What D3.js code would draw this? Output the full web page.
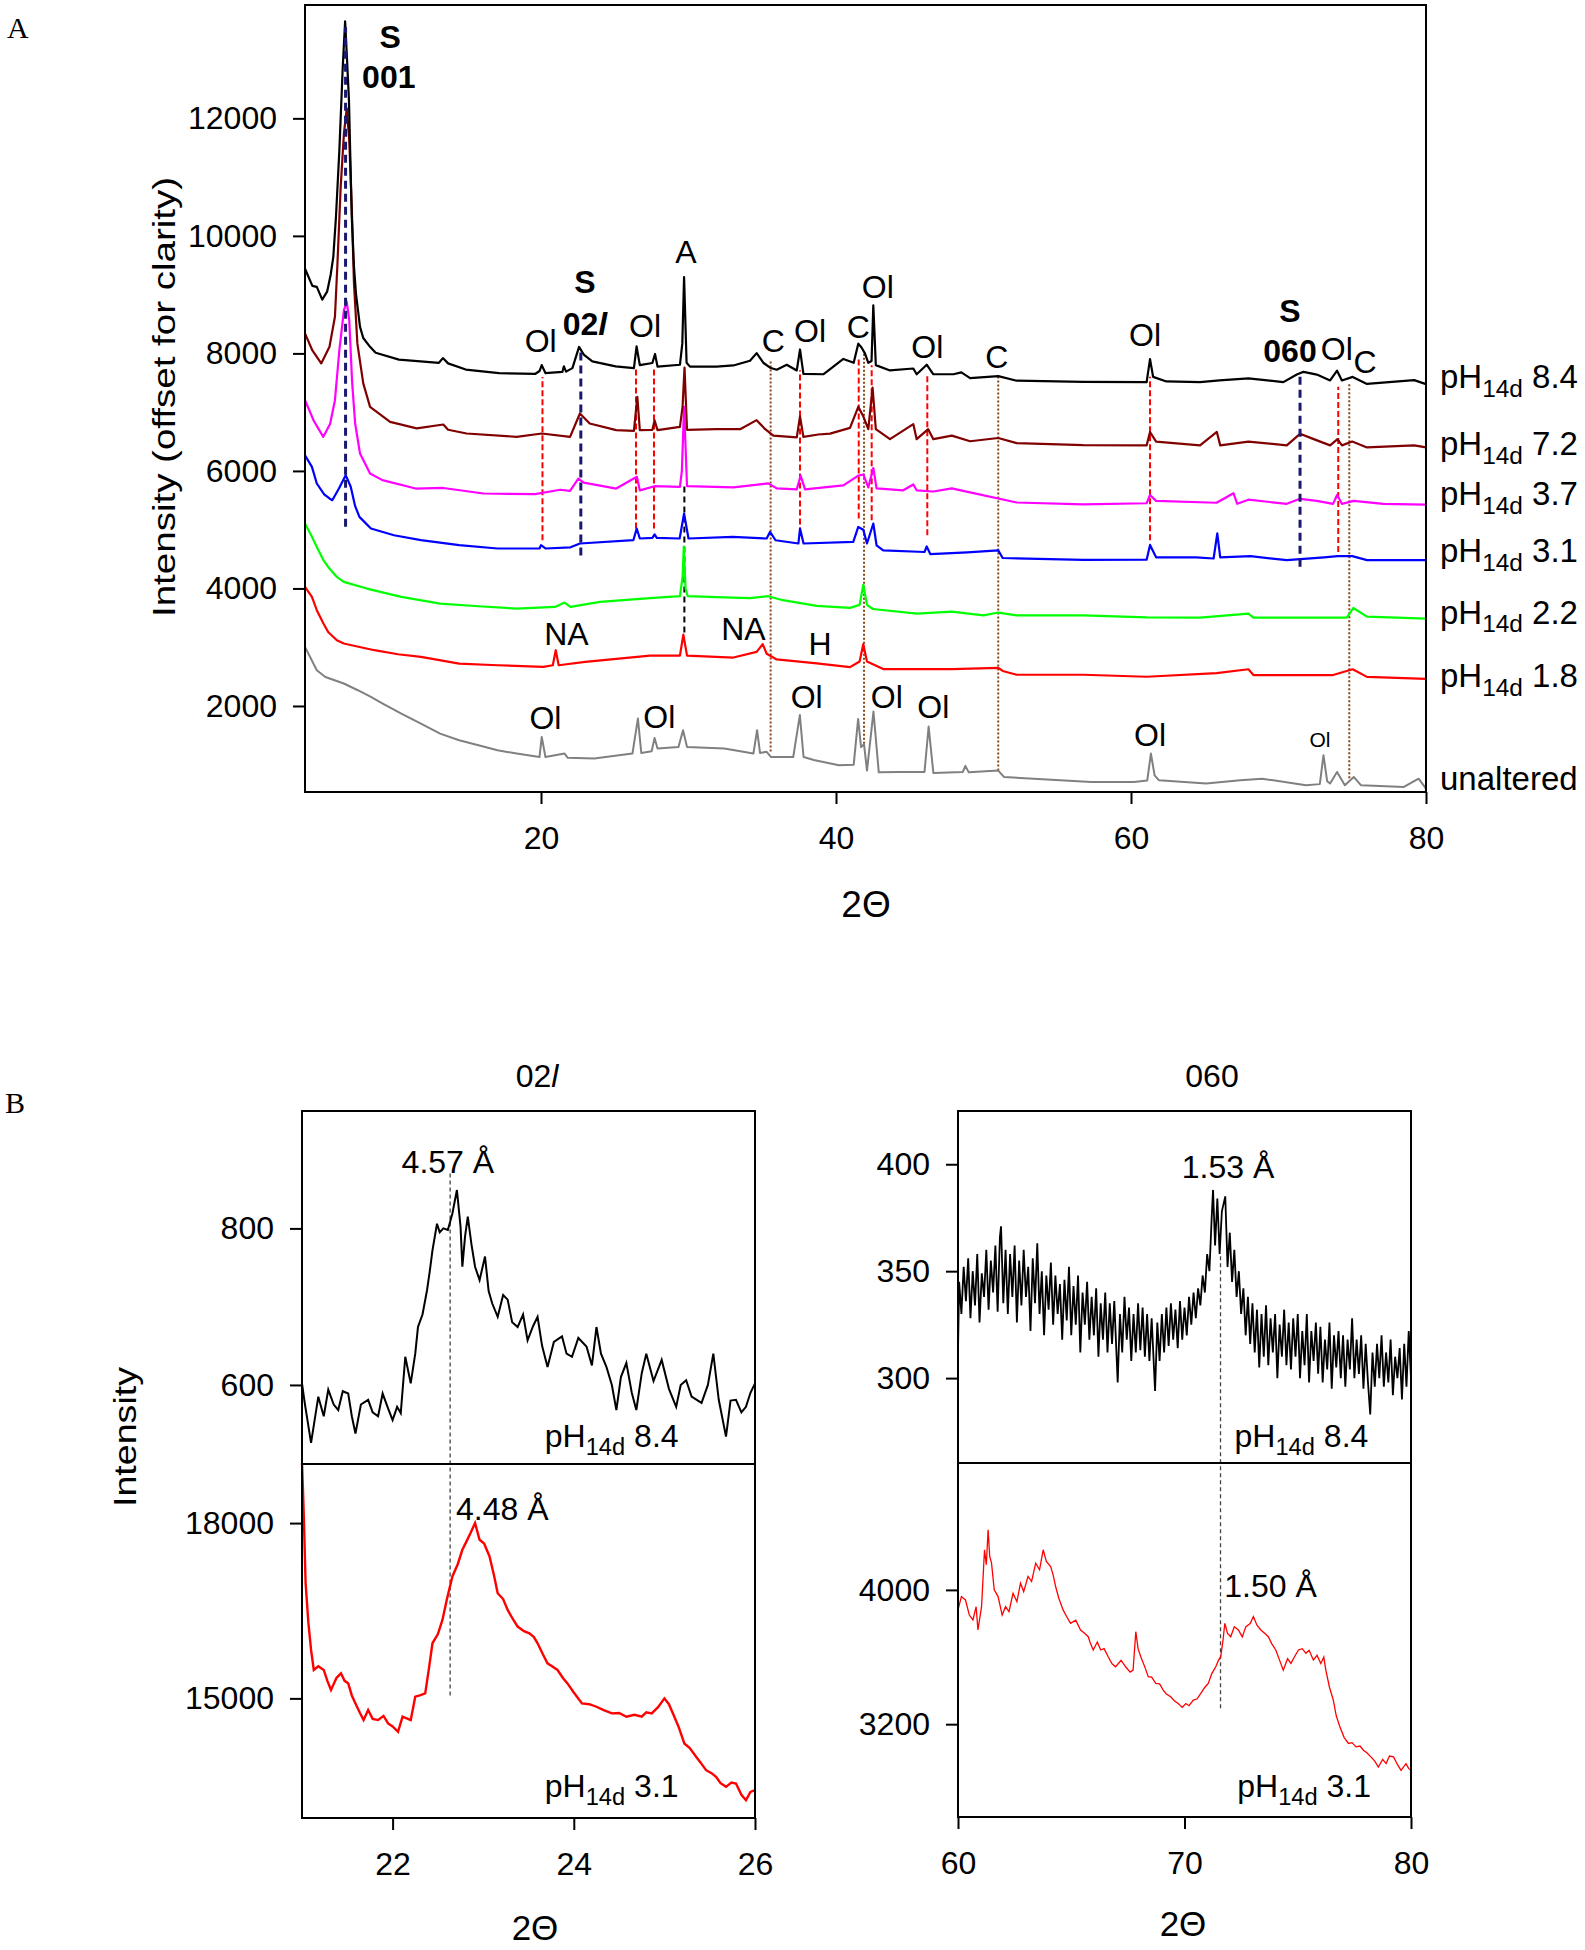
<!DOCTYPE html>
<html><head><meta charset="utf-8">
<script src="https://cdn.jsdelivr.net/npm/d3@7"></script>
<style>
body{margin:0;background:#fff}
text{font-family:"Liberation Sans",Arial,sans-serif;fill:#000}
</style>
</head><body>
<svg id="c" width="1585" height="1950"></svg>
<script>
// ---------------- DATA: panel A (2θ, intensity offset) ----------------
const ph84 = [[4.0,9440],[4.5,9150],[4.8,9133],[5.17,8915],[5.5,9050],[5.74,9340],[5.92,9644],[6.1,10325],[6.33,11460],[6.56,12879],[6.72,13650],[6.85,13000],[6.98,12310],[7.17,10325],[7.32,9474],[7.46,9005],[7.73,8452],[7.95,8262],[8.41,8112],[8.79,8010],[10.37,7895],[13.08,7840],[13.35,7920],[13.7,7830],[14.9,7725],[17.15,7665],[19.6,7650],[19.9,7700],[20.05,7800],[20.3,7665],[21.45,7685],[21.55,7780],[21.7,7690],[22.13,7750],[22.58,8110],[22.9,7980],[23.48,7865],[25.06,7780],[26.3,7750],[26.48,8120],[26.7,7800],[27.55,7837],[27.73,7990],[27.9,7775],[29.42,7807],[29.58,8166],[29.7,9300],[29.87,7840],[30.1,7775],[31.9,7775],[33.04,7795],[34.17,7874],[34.62,8005],[35.07,7841],[35.53,7756],[35.98,7722],[36.66,7807],[37.34,7710],[37.56,8067],[37.79,7650],[39.14,7645],[40.5,7906],[41.2,7840],[41.51,8166],[41.73,8100],[41.96,8000],[42.19,7840],[42.41,7870],[42.53,8818],[42.7,7800],[43.66,7710],[45.24,7743],[45.47,7645],[46.15,7807],[46.6,7645],[47.96,7645],[48.5,7676],[49.09,7579],[51.0,7613],[52.25,7535],[56.77,7515],[61.06,7511],[61.29,7903],[61.5,7600],[62.4,7523],[64.68,7511],[66.0,7540],[67.96,7576],[70.33,7511],[71.24,7640],[71.7,7686],[72.6,7640],[73.5,7540],[73.97,7705],[74.3,7540],[75.03,7600],[76.0,7480],[79.2,7545],[80.0,7477]];
const ph72 = [[4.0,8340],[4.5,8050],[5.1,7830],[5.66,8112],[6.03,8623],[6.19,9474],[6.42,10836],[6.64,11745],[6.83,12170],[7.0,11631],[7.17,10495],[7.32,9191],[7.55,8170],[7.95,7489],[8.41,7090],[9.77,6835],[11.57,6723],[13.38,6790],[13.7,6700],[14.96,6637],[18.35,6580],[20.05,6637],[21.97,6580],[22.64,6978],[23.3,6808],[25.1,6694],[26.3,6680],[26.53,7260],[26.7,6694],[27.55,6700],[27.7,6860],[27.9,6694],[29.42,6750],[29.6,7100],[29.73,7760],[29.9,6700],[31.9,6710],[33.5,6710],[34.62,6864],[35.2,6710],[35.75,6602],[37.34,6570],[37.56,6929],[37.79,6580],[38.8,6620],[39.6,6635],[40.95,6733],[41.51,7090],[41.85,6930],[42.19,6710],[42.48,7418],[42.7,6710],[43.66,6540],[45.24,6797],[45.47,6540],[46.25,6710],[46.6,6540],[47.85,6600],[49.09,6505],[51.0,6560],[52.25,6473],[56.77,6440],[61.06,6435],[61.29,6663],[61.7,6500],[64.68,6435],[65.82,6663],[66.05,6435],[67.96,6500],[70.56,6435],[71.46,6631],[72.3,6550],[73.5,6435],[74.0,6540],[74.3,6435],[75.0,6500],[76.0,6400],[79.2,6435],[80.0,6400]];
const ph37 = [[4.0,7204],[4.6,6850],[5.24,6580],[5.7,6800],[6.03,7204],[6.33,8055],[6.64,8736],[6.83,8878],[7.0,8566],[7.2,7489],[7.4,6807],[7.73,6297],[8.41,5956],[9.25,5843],[11.5,5700],[13.38,5710],[16.1,5616],[19.6,5605],[21.3,5680],[21.97,5660],[22.53,5870],[22.9,5800],[25.1,5700],[26.5,5900],[26.7,5670],[27.7,5740],[29.42,5730],[29.55,6000],[29.7,7090],[29.9,5740],[33.04,5720],[35.41,5788],[35.98,5703],[37.34,5686],[37.6,5919],[37.9,5686],[40.5,5754],[41.51,5919],[41.85,5940],[42.19,5720],[42.53,6049],[42.75,5703],[44.56,5670],[45.24,5770],[45.47,5670],[46.6,5650],[47.85,5703],[49.09,5636],[52.25,5463],[56.77,5430],[61.06,5450],[61.29,5590],[61.7,5490],[65.8,5458],[66.95,5620],[67.2,5440],[67.96,5510],[70.56,5440],[71.46,5525],[72.6,5490],[73.7,5440],[73.97,5590],[74.3,5440],[75.1,5490],[77.1,5440],[80.0,5425]];
const ph31 = [[4.0,6266],[4.47,6069],[4.8,5786],[5.3,5600],[5.66,5531],[5.85,5502],[6.3,5700],[6.76,5928],[7.1,5730],[7.4,5400],[7.69,5218],[8.47,5020],[10.03,4906],[11.86,4821],[14.45,4736],[17.05,4680],[19.9,4680],[20.0,4736],[20.3,4680],[22.0,4700],[22.64,4765],[26.26,4821],[26.49,5020],[26.7,4850],[27.55,4860],[27.7,4920],[27.85,4860],[29.4,4850],[29.7,5275],[30.0,4850],[33.0,4877],[35.3,4850],[35.53,4963],[35.9,4820],[37.45,4765],[37.56,5020],[37.8,4765],[41.17,4792],[41.51,5047],[41.85,5000],[42.1,4765],[42.53,5105],[42.75,4735],[43.2,4648],[46.0,4620],[46.15,4714],[46.4,4583],[48.9,4615],[51.0,4648],[51.3,4518],[56.77,4486],[61.06,4490],[61.29,4741],[61.7,4530],[64.4,4530],[65.6,4510],[65.85,4937],[66.05,4530],[68.1,4550],[70.56,4481],[73.1,4530],[74.0,4550],[75.0,4550],[76.0,4481],[80.0,4481]];
const ph22 = [[4.0,5105],[4.47,4878],[4.8,4707],[5.25,4481],[5.57,4366],[6.16,4196],[6.63,4111],[8.19,3998],[10.53,3856],[13.16,3743],[15.76,3697],[18.35,3658],[20.95,3686],[21.6,3760],[22.0,3686],[24.0,3771],[27.39,3834],[29.42,3868],[29.6,4200],[29.68,4714],[29.8,4000],[29.95,3868],[31.9,3851],[34.17,3834],[35.4,3868],[36.4,3800],[38.7,3703],[40.95,3670],[41.6,3720],[41.85,4062],[42.1,3720],[42.5,3650],[45.47,3573],[47.85,3607],[50.0,3541],[51.0,3590],[52.25,3541],[56.77,3541],[61.07,3509],[64.68,3503],[67.96,3570],[68.3,3503],[74.63,3503],[75.07,3667],[76.0,3520],[80.0,3486]];
const ph18 = [[4.0,4026],[4.47,3856],[4.8,3630],[5.25,3403],[5.57,3260],[6.16,3119],[6.63,3063],[8.7,2949],[10.3,2880],[11.86,2835],[14.45,2722],[17.05,2693],[20.16,2665],[20.8,2693],[21.0,2949],[21.2,2693],[23.0,2750],[27.39,2857],[29.42,2857],[29.65,3214],[29.9,2857],[33.04,2824],[34.62,2921],[35.03,3052],[35.3,2889],[35.98,2792],[38.7,2726],[40.95,2661],[41.6,2758],[41.85,3052],[42.1,2758],[43.2,2628],[47.85,2628],[51.0,2650],[51.3,2596],[52.25,2531],[56.77,2531],[61.07,2497],[65.8,2560],[67.96,2625],[68.3,2526],[73.7,2526],[75.03,2625],[76.0,2495],[80.0,2462]];
const unaltered = [[4.0,3005],[4.8,2608],[5.38,2494],[6.63,2382],[7.58,2268],[8.47,2154],[9.27,2041],[10.53,1871],[11.86,1700],[13.16,1530],[14.45,1416],[15.76,1331],[17.05,1246],[18.35,1190],[19.9,1132],[20.05,1473],[20.3,1132],[21.6,1190],[21.8,1120],[23.6,1105],[26.2,1190],[26.57,1786],[26.8,1200],[27.5,1230],[27.7,1456],[27.9,1275],[29.32,1303],[29.63,1587],[29.9,1303],[32.43,1275],[34.4,1190],[34.65,1587],[34.85,1200],[35.3,1220],[35.6,1130],[37.1,1132],[37.55,1845],[37.8,1132],[38.5,1080],[40.2,991],[41.2,1000],[41.5,1780],[41.7,1300],[41.9,1350],[42.1,900],[42.54,1905],[42.9,870],[44.36,877],[46.0,877],[46.28,1650],[46.6,860],[48.6,877],[48.77,980],[49.0,870],[51.0,900],[51.4,790],[57.3,707],[60.2,707],[61.1,730],[61.35,1190],[61.6,820],[61.9,735],[65.1,680],[67.4,735],[68.9,763],[71.86,650],[72.8,670],[73.05,1161],[73.3,720],[73.5,680],[73.97,877],[74.5,650],[75.1,792],[75.6,650],[78.5,622],[79.5,763],[80.0,593]];

const seriesNamesA = ["8.4","7.2","3.7","3.1","2.2","1.8"];
const seriesLabelValA = [7575,6436,5585,4616,3568,2494];
const unalteredLabelVal = 735;

// reference lines: [2θ, from, to]
const smectiteLines = [[6.75,5050,13550],[22.7,4560,8100],[71.46,4370,7660]];
const olivineLines = [[20.1,4820,7600],[26.44,5020,7770],[27.66,5020,7770],[37.56,4935,7715],[41.54,5190,7942],[42.42,5162,7800],[46.19,4906,7659],[61.29,4821,7601],[74.05,4622,7431]];
const calciteLines = [[35.57,1227,7874],[41.9,1358,8005],[51.0,902,7613],[74.8,768,7511]];
const anataseLines = [[29.72,3250,5790]];

// peak labels [text, 2θ, intensity]
const peakLabelsA = [["Ol",19.98,8022],["Ol",27.05,8277],["C",35.75,8022],["Ol",38.24,8192],["C",41.51,8260],["Ol",42.83,8941],["Ol",46.19,7920],["C",50.9,7750],["Ol",60.95,8124],["Ol",73.95,7886],["C",75.86,7665],["A",29.83,9537],["NA",21.72,3034],["NA",33.72,3119],["H",38.92,2863],["Ol",20.3,1604],["Ol",28.02,1621],["Ol",38.01,1962],["Ol",43.44,1962],["Ol",46.6,1791],["Ol",61.29,1314]];
const smallLabelsA = [["Ol",72.81,1297]];
const boldLabelsA = [["S",9.77,13202],["001",9.68,12516],["S",22.98,9025],["S",70.78,8532],["060",70.78,7852]];
const label02l = [22.98,8311];

const yTicksA = [2000,4000,6000,8000,10000,12000];
const xTicksA = [20,40,60,80];

// ---------------- DATA: panel B ----------------
const top02 = [[21.0,602],[21.03,577],[21.1,526],[21.18,585],[21.24,560],[21.29,594],[21.35,575],[21.4,568],[21.45,592],[21.51,589],[21.55,560],[21.59,538],[21.65,575],[21.73,581],[21.78,565],[21.84,560],[21.89,589],[21.95,570],[22.0,555],[22.05,572],[22.09,564],[22.14,636],[22.2,602],[22.25,640],[22.28,674],[22.33,690],[22.38,721],[22.41,745],[22.44,772],[22.49,806],[22.52,795],[22.56,800],[22.61,798],[22.66,819],[22.71,849],[22.75,802],[22.77,751],[22.8,790],[22.83,815],[22.87,780],[22.91,751],[22.96,734],[23.02,764],[23.06,720],[23.1,704],[23.16,687],[23.22,715],[23.27,709],[23.32,680],[23.38,674],[23.44,690],[23.49,657],[23.55,675],[23.6,687],[23.65,650],[23.71,623],[23.78,655],[23.87,662],[23.92,640],[23.98,636],[24.05,660],[24.14,649],[24.2,625],[24.25,674],[24.3,640],[24.36,623],[24.42,600],[24.47,568],[24.52,610],[24.58,628],[24.64,590],[24.69,568],[24.75,615],[24.8,640],[24.88,605],[24.97,632],[25.05,595],[25.13,572],[25.18,600],[25.24,606],[25.3,585],[25.41,577],[25.48,600],[25.54,640],[25.6,581],[25.68,534],[25.73,580],[25.79,581],[25.85,565],[25.9,572],[25.95,590],[26.0,602]];
const bot02 = [[21.0,19029],[21.01,18600],[21.02,18114],[21.04,16971],[21.07,16300],[21.1,15829],[21.13,15486],[21.18,15550],[21.24,15486],[21.28,15300],[21.32,15143],[21.38,15350],[21.43,15429],[21.47,15300],[21.51,15257],[21.55,15050],[21.59,14914],[21.64,14750],[21.68,14629],[21.73,14800],[21.78,14650],[21.84,14629],[21.9,14700],[21.95,14571],[22.0,14520],[22.06,14429],[22.11,14686],[22.2,14629],[22.25,15029],[22.3,15050],[22.36,15086],[22.4,15500],[22.44,15943],[22.5,16100],[22.55,16343],[22.6,16700],[22.66,17086],[22.72,17300],[22.77,17543],[22.82,17700],[22.86,17829],[22.91,18000],[22.96,17714],[23.01,17650],[23.07,17429],[23.12,17100],[23.16,16800],[23.22,16700],[23.27,16514],[23.33,16350],[23.38,16229],[23.45,16150],[23.51,16114],[23.56,16050],[23.6,15943],[23.66,15750],[23.71,15600],[23.76,15550],[23.82,15486],[23.88,15350],[23.93,15257],[24.0,15100],[24.09,14914],[24.17,14900],[24.25,14857],[24.33,14800],[24.42,14743],[24.5,14750],[24.58,14686],[24.67,14720],[24.75,14686],[24.8,14760],[24.86,14743],[24.93,14850],[25.0,15000],[25.05,14900],[25.11,14686],[25.16,14500],[25.22,14229],[25.28,14150],[25.35,14000],[25.4,13900],[25.46,13771],[25.52,13720],[25.57,13657],[25.62,13550],[25.68,13486],[25.74,13560],[25.79,13543],[25.85,13350],[25.9,13257],[25.95,13400],[26.0,13429]];
const top060 = [[60.0,312],[60.05,345],[60.15,330],[60.25,352],[60.35,336],[60.45,356],[60.55,328],[60.65,350],[60.75,334],[60.85,358],[60.95,326],[61.05,349],[61.15,338],[61.25,360],[61.35,332],[61.45,355],[61.55,340],[61.65,362],[61.75,331],[61.85,366],[61.9,371],[62.0,335],[62.1,360],[62.2,330],[62.3,358],[62.4,338],[62.5,362],[62.6,326],[62.7,355],[62.8,334],[62.9,360],[63.0,338],[63.1,352],[63.2,322],[63.3,356],[63.4,335],[63.5,363],[63.6,330],[63.7,350],[63.8,320],[63.9,348],[64.0,332],[64.1,354],[64.2,325],[64.3,348],[64.4,330],[64.5,344],[64.6,318],[64.7,346],[64.8,327],[64.9,352],[65.0,320],[65.1,343],[65.2,325],[65.3,348],[65.4,312],[65.5,340],[65.6,325],[65.7,345],[65.8,318],[65.9,338],[66.0,320],[66.1,342],[66.2,310],[66.3,335],[66.4,318],[66.5,340],[66.6,312],[66.7,335],[66.8,316],[66.9,336],[67.05,298],[67.15,330],[67.25,312],[67.35,338],[67.45,318],[67.55,333],[67.65,308],[67.75,330],[67.85,312],[67.95,335],[68.05,313],[68.15,333],[68.25,310],[68.35,330],[68.45,308],[68.55,328],[68.7,294],[68.8,326],[68.9,308],[69.0,330],[69.1,312],[69.2,333],[69.3,315],[69.4,335],[69.5,318],[69.6,332],[69.7,314],[69.8,336],[69.9,318],[70.0,333],[70.1,320],[70.2,338],[70.3,325],[70.4,340],[70.5,328],[70.6,342],[70.7,334],[70.8,348],[70.9,340],[71.0,358],[71.1,350],[71.2,375],[71.26,388],[71.35,362],[71.45,384],[71.55,358],[71.65,378],[71.8,385],[71.9,352],[72.0,368],[72.1,345],[72.2,360],[72.3,338],[72.4,350],[72.5,330],[72.6,342],[72.7,320],[72.8,338],[72.9,316],[73.0,335],[73.1,312],[73.2,332],[73.3,305],[73.4,330],[73.5,310],[73.6,334],[73.7,306],[73.8,328],[73.9,312],[74.0,330],[74.1,300],[74.2,325],[74.3,310],[74.4,332],[74.5,306],[74.6,326],[74.7,304],[74.8,328],[74.9,310],[75.0,330],[75.1,300],[75.2,322],[75.3,306],[75.4,330],[75.5,298],[75.6,322],[75.7,308],[75.8,326],[75.9,302],[76.0,324],[76.1,298],[76.2,318],[76.3,304],[76.4,326],[76.5,295],[76.6,320],[76.7,305],[76.8,322],[76.9,300],[77.0,320],[77.1,296],[77.2,318],[77.3,304],[77.4,328],[77.5,300],[77.6,318],[77.7,302],[77.8,320],[77.9,295],[78.0,316],[78.1,298],[78.2,283],[78.3,312],[78.4,296],[78.5,316],[78.6,300],[78.7,320],[78.8,296],[78.9,312],[79.0,298],[79.1,318],[79.2,292],[79.3,310],[79.4,300],[79.5,314],[79.6,290],[79.7,316],[79.8,296],[79.9,322],[80.0,300]];
const bot060 = [[60.0,3881],[60.15,3960],[60.33,3940],[60.5,3850],[60.66,3821],[60.8,3900],[60.88,3761],[61.04,3900],[61.17,4239],[61.25,4150],[61.33,4358],[61.4,4200],[61.48,4159],[61.6,4000],[61.77,3960],[61.95,3850],[62.1,3900],[62.25,3870],[62.43,3980],[62.6,3930],[62.76,4040],[62.9,3990],[63.09,4080],[63.25,4050],[63.43,4159],[63.6,4120],[63.76,4239],[63.9,4170],[64.09,4139],[64.2,4090],[64.31,4020],[64.45,3950],[64.64,3881],[64.8,3840],[64.97,3801],[65.2,3820],[65.41,3761],[65.6,3740],[65.75,3721],[65.85,3680],[65.97,3642],[66.15,3690],[66.3,3642],[66.45,3650],[66.63,3602],[66.8,3560],[66.96,3542],[67.2,3580],[67.4,3542],[67.6,3510],[67.73,3522],[67.85,3751],[67.95,3650],[68.07,3602],[68.25,3540],[68.4,3483],[68.55,3480],[68.73,3443],[68.9,3440],[69.06,3403],[69.2,3380],[69.39,3363],[69.55,3340],[69.72,3323],[69.9,3300],[70.06,3323],[70.2,3310],[70.39,3343],[70.55,3350],[70.72,3383],[70.9,3420],[71.05,3443],[71.2,3500],[71.38,3542],[71.5,3580],[71.6,3602],[71.7,3700],[71.78,3801],[71.9,3740],[72.04,3721],[72.2,3780],[72.38,3761],[72.55,3720],[72.71,3781],[72.9,3800],[73.04,3841],[73.2,3790],[73.37,3761],[73.55,3740],[73.7,3721],[73.85,3680],[74.03,3642],[74.2,3580],[74.36,3522],[74.55,3590],[74.7,3562],[74.85,3600],[75.03,3642],[75.2,3650],[75.36,3622],[75.5,3640],[75.69,3582],[75.85,3610],[76.02,3562],[76.15,3600],[76.24,3522],[76.4,3420],[76.57,3343],[76.7,3250],[76.86,3184],[77.05,3120],[77.24,3085],[77.4,3090],[77.57,3065],[77.75,3070],[77.9,3045],[78.05,3030],[78.23,3005],[78.4,2980],[78.56,2945],[78.75,2990],[78.9,2965],[79.05,3010],[79.23,3005],[79.4,2960],[79.56,2925],[79.7,2950],[79.78,2965],[79.9,2935],[80.0,2925]];

const bYTicksTopL = [600,800], bYTicksBotL = [15000,18000];
const bYTicksTopR = [300,350,400], bYTicksBotR = [3200,4000];
const bXTicksL = [22,24,26], bXTicksR = [60,70,80];
const dLeft = [22.635, 870, 15000];
const dRight = [71.59, 357, 3284];
const annB = {topL:["4.57 Å",22.61,870.6], botL:["4.48 Å",23.21,18057], topR:["1.53 Å",71.92,393.6], botR:["1.50 Å",73.8,3958]};
const phB = {topL:["8.4",23.68,521], botL:["3.1",23.68,13313], topR:["8.4",72.21,268], botR:["3.1",72.33,2766]};

// ---------------- DRAWING ----------------
const svg = d3.select("#c");
const FS = 32;

function txt(x, y, s, o = {}) {
  const t = svg.append("text").attr("x", x).attr("y", y).attr("font-size", o.size || FS)
    .attr("text-anchor", o.anchor || "middle").text(s);
  if (o.bold) t.attr("font-weight", "bold");
  if (o.family) t.style("font-family", o.family);
  return t;
}
function phText(x, y, val, size, anchor) {
  const t = svg.append("text").attr("x", x).attr("y", y).attr("font-size", size).attr("text-anchor", anchor || "start");
  t.append("tspan").text("pH");
  t.append("tspan").attr("font-size", size * 0.74).attr("dy", size * 0.26).text("14d");
  t.append("tspan").attr("dy", -size * 0.26).text(" " + val);
  return t;
}
function styleAxis(g) {
  g.select(".domain").remove();
  g.selectAll(".tick line").attr("stroke", "#000").attr("stroke-width", 2);
  g.selectAll(".tick text").attr("font-size", FS).style("font-family", '"Liberation Sans",Arial,sans-serif').attr("fill", "#000");
}

// Panel A
const xA = d3.scaleLinear().domain([4, 80]).range([305, 1426]);
const yA = d3.scaleLinear().domain([536, 13929]).range([792, 5]);
const lineA = d3.line().x(d => xA(d[0])).y(d => yA(d[1]));

txt(7, 38, "A", {anchor: "start", size: 30, family: '"Liberation Serif","Times New Roman",serif'});

function refLines(arr, color, width, dash) {
  svg.append("g").selectAll("line").data(arr).join("line")
    .attr("x1", d => xA(d[0])).attr("x2", d => xA(d[0]))
    .attr("y1", d => yA(d[1])).attr("y2", d => yA(d[2]))
    .attr("stroke", color).attr("stroke-width", width).attr("stroke-dasharray", dash);
}
refLines(calciteLines, "#8B4513", 2, "2,2");
refLines(olivineLines, "#FF0000", 2, "6,3");
refLines(anataseLines, "#000000", 2, "6,4");

const seriesA = [
  {d: unaltered, c: "#808080", w: 2},
  {d: ph18, c: "#FF0000", w: 2.2},
  {d: ph22, c: "#00FF00", w: 2.2},
  {d: ph31, c: "#0000FF", w: 2.2},
  {d: ph37, c: "#FF00FF", w: 2.2},
  {d: ph72, c: "#800000", w: 2.2},
  {d: ph84, c: "#000000", w: 2.2}
];
svg.append("g").selectAll("path").data(seriesA).join("path")
  .attr("d", s => lineA(s.d)).attr("fill", "none")
  .attr("stroke", s => s.c).attr("stroke-width", s => s.w).attr("stroke-linejoin", "round");

refLines(smectiteLines, "#191970", 3, "8,5");

svg.append("rect").attr("x", 305).attr("y", 5).attr("width", 1426 - 305).attr("height", 792 - 5)
  .attr("fill", "none").attr("stroke", "#000").attr("stroke-width", 2);
svg.append("g").attr("transform", "translate(305,0)")
  .call(d3.axisLeft(yA).tickValues(yTicksA).tickSize(12).tickPadding(16).tickFormat(d3.format("d"))).call(styleAxis);
svg.append("g").attr("transform", "translate(0,792)")
  .call(d3.axisBottom(xA).tickValues(xTicksA).tickSize(12).tickPadding(22).tickFormat(d3.format("d"))).call(styleAxis);

svg.append("text").attr("transform", "translate(175,397) rotate(-90)").attr("text-anchor", "middle")
  .attr("font-size", FS).attr("textLength", 440).attr("lengthAdjust", "spacingAndGlyphs")
  .text("Intensity (offset for clarity)");
txt(866, 917, "2Θ", {size: 37});

peakLabelsA.forEach(l => txt(xA(l[1]), yA(l[2]), l[0]));
smallLabelsA.forEach(l => txt(xA(l[1]), yA(l[2]), l[0], {size: 21}));
boldLabelsA.forEach(l => txt(xA(l[1]), yA(l[2]), l[0], {bold: true}));
{
  const t = txt(xA(label02l[0]), yA(label02l[1]), "", {bold: true});
  t.append("tspan").text("02");
  t.append("tspan").attr("font-style", "italic").text("l");
}
seriesNamesA.forEach((n, i) => phText(1440, yA(seriesLabelValA[i]) + 10, n, 33));
txt(1440, yA(unalteredLabelVal) + 10, "unaltered", {anchor: "start", size: 33});

// Panel B
txt(5, 1113, "B", {anchor: "start", size: 30, family: '"Liberation Serif","Times New Roman",serif'});
svg.append("text").attr("transform", "translate(136,1437) rotate(-90)").attr("text-anchor", "middle")
  .attr("font-size", FS).attr("textLength", 140).attr("lengthAdjust", "spacingAndGlyphs").text("Intensity");

function subplot(cfg) {
  const x = d3.scaleLinear().domain(cfg.xd).range([cfg.x0, cfg.x1]);
  const yT = d3.scaleLinear().domain(cfg.ytd).range([cfg.ym, cfg.y0]);
  const yB = d3.scaleLinear().domain(cfg.ybd).range([cfg.y1, cfg.ym]);
  const tt = txt(cfg.titleX, 1087, "");
  tt.append("tspan").text(cfg.title[0]);
  if (cfg.title[1]) tt.append("tspan").attr("font-style", "italic").text(cfg.title[1]);
  svg.append("line").attr("x1", x(cfg.guide[0])).attr("x2", x(cfg.guide[0]))
    .attr("y1", yT(cfg.guide[1])).attr("y2", yB(cfg.guide[2]))
    .attr("stroke", "#444").attr("stroke-width", 1.3).attr("stroke-dasharray", "4,3");
  svg.append("path").attr("d", d3.line().x(d => x(d[0])).y(d => yT(d[1]))(cfg.top))
    .attr("fill", "none").attr("stroke", "#000").attr("stroke-width", cfg.wt);
  svg.append("path").attr("d", d3.line().x(d => x(d[0])).y(d => yB(d[1]))(cfg.bot))
    .attr("fill", "none").attr("stroke", "#FF0000").attr("stroke-width", cfg.wb);
  svg.append("rect").attr("x", cfg.x0).attr("y", cfg.y0).attr("width", cfg.x1 - cfg.x0).attr("height", cfg.y1 - cfg.y0)
    .attr("fill", "none").attr("stroke", "#000").attr("stroke-width", 2);
  svg.append("line").attr("x1", cfg.x0).attr("x2", cfg.x1).attr("y1", cfg.ym).attr("y2", cfg.ym)
    .attr("stroke", "#000").attr("stroke-width", 2);
  svg.append("g").attr("transform", `translate(${cfg.x0},0)`)
    .call(d3.axisLeft(yT).tickValues(cfg.ytt).tickSize(12).tickPadding(16).tickFormat(d3.format("d"))).call(styleAxis);
  svg.append("g").attr("transform", `translate(${cfg.x0},0)`)
    .call(d3.axisLeft(yB).tickValues(cfg.ybt).tickSize(12).tickPadding(16).tickFormat(d3.format("d"))).call(styleAxis);
  svg.append("g").attr("transform", `translate(0,${cfg.y1})`)
    .call(d3.axisBottom(x).tickValues(cfg.xt).tickSize(12).tickPadding(22).tickFormat(d3.format("d"))).call(styleAxis);
  txt(x(cfg.annT[1]), yT(cfg.annT[2]), cfg.annT[0]);
  txt(x(cfg.annB[1]), yB(cfg.annB[2]), cfg.annB[0]);
  phText(x(cfg.phT[1]), yT(cfg.phT[2]), cfg.phT[0], FS);
  phText(x(cfg.phB[1]), yB(cfg.phB[2]), cfg.phB[0], FS);
  txt(cfg.labX, cfg.labY, "2Θ", {size: 35});
}

subplot({xd: [21, 26], x0: 302, x1: 755, y0: 1111, ym: 1464, y1: 1818,
  ytd: [499, 950], ybd: [12953, 19011], ytt: bYTicksTopL, ybt: bYTicksBotL, xt: bXTicksL,
  top: top02, bot: bot02, wt: 2, wb: 2.4, title: ["02", "l"], titleX: 537, guide: dLeft,
  annT: annB.topL, annB: annB.botL, phT: phB.topL, phB: phB.botL, labX: 535, labY: 1940});
subplot({xd: [60, 80], x0: 958, x1: 1411, y0: 1111, ym: 1463, y1: 1817,
  ytd: [260.3, 424.9], ybd: [2647, 4756], ytt: bYTicksTopR, ybt: bYTicksBotR, xt: bXTicksR,
  top: top060, bot: bot060, wt: 1.8, wb: 1.3, title: ["060", ""], titleX: 1212, guide: dRight,
  annT: annB.topR, annB: annB.botR, phT: phB.topR, phB: phB.botR, labX: 1183, labY: 1936});
</script>
</body></html>
